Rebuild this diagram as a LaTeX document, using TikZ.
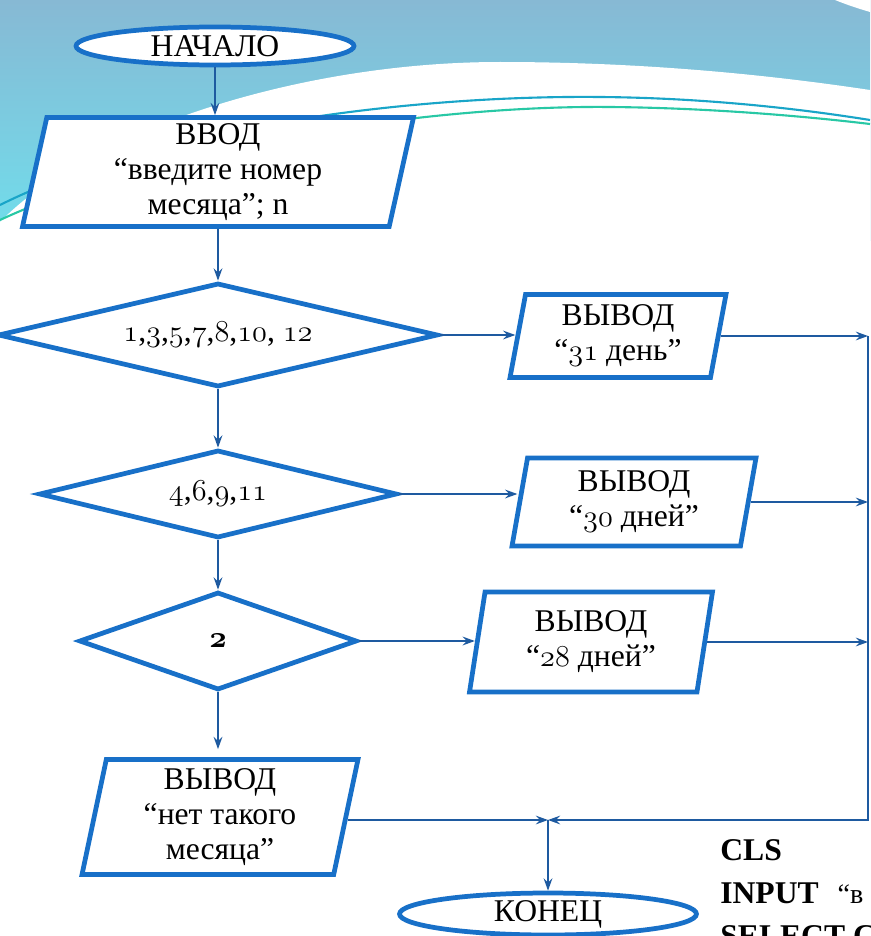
\documentclass[tikz,border=0pt]{standalone}
\usepackage{fontspec}
\setmainfont{Liberation Serif}
\usetikzlibrary{shapes.geometric,arrows.meta,positioning,calc}

\definecolor{boxblue}{RGB}{24,112,200}
\definecolor{lineblue}{RGB}{30,90,160}
\definecolor{bgtop}{RGB}{135,185,212}
\definecolor{bgbot}{RGB}{112,222,236}
\definecolor{waveA}{RGB}{25,165,200}
\definecolor{waveB}{RGB}{40,200,165}

\newcommand{\onum}[1]{{\usefont{OML}{cmm}{m}{it}#1}}
\newcommand{\onumb}[1]{{\usefont{OML}{cmm}{b}{it}#1}}

\tikzset{
  base/.style={draw=boxblue, line width=2.7pt, fill=white, align=center, inner sep=0pt,
    font=\fontsize{18}{20}\selectfont},
  term/.style={base, ellipse},
  io/.style={base, trapezium, trapezium left angle=76, trapezium right angle=104, trapezium stretches body},
  decision/.style={base, diamond},
  line/.style={draw=lineblue, line width=0.9pt, -{Stealth[length=7pt,width=5pt,inset=2.5pt]}},
  code/.style={anchor=base west, inner sep=0pt, font=\fontsize{18}{20}\selectfont\bfseries}
}

\begin{document}
\begin{tikzpicture}[x=0.02cm, y=-0.02cm]
    \useasboundingbox (0,0) rectangle (870,936);
    \clip (0,0) rectangle (870,936);
    % background
    \fill[top color=bgtop, bottom color=bgbot] (0,0) rectangle (870,240);
    \fill[white] (0,222) .. controls (90,130) and (300,62) .. (500,62) .. controls (660,62) and (790,78) .. (870,90) -- (870,936) -- (0,936) -- cycle;
    \fill[white] (835,0) .. controls (850,6) and (860,9) .. (870,12) -- (870,0) -- cycle;
    \draw[waveA, line width=1.2pt] (0,205) .. controls (150,130) and (400,95) .. (600,97) .. controls (720,98) and (820,112) .. (870,120);
    \draw[waveB, line width=1.2pt] (0,220) .. controls (150,150) and (420,105) .. (610,107) .. controls (720,108) and (820,118) .. (870,124);

    \node[term, minimum width=5.56cm, minimum height=0.76cm] (start) at (215,46) {НАЧАЛО};
    \node[io, minimum width=7.82cm, minimum height=2.18cm] (input) at (218,172) {ВВОД\\“введите номер\\месяца”; n};
    \node[decision, shape aspect=4.2, minimum width=8.8cm, minimum height=2.08cm] (d1) at (218,335) {\onum{1},\onum{3},\onum{5},\onum{7},\onum{8},\onum{10}, \onum{12}};
    \node[decision, shape aspect=4.1, minimum width=7.16cm, minimum height=1.76cm] (d2) at (218,494) {\onum{4},\onum{6},\onum{9},\onum{11}};
    \node[decision, shape aspect=2.8, minimum width=5.56cm, minimum height=1.96cm] (d3) at (218,641) {\onumb{2}};
    \node[io, minimum width=5.52cm, minimum height=2.30cm] (out4) at (220,817) {ВЫВОД\\“нет такого\\месяца”};

    \node[io, minimum width=4.32cm, minimum height=1.66cm] (out1) at (618,336) {ВЫВОД\\“\onum{31} день”};
    \node[io, minimum width=4.88cm, minimum height=1.76cm] (out2) at (634,502) {ВЫВОД\\“\onum{30} дней”};
    \node[io, minimum width=4.86cm, minimum height=2.0cm] (out3) at (591,642) {ВЫВОД\\“\onum{28} дней”};

    \node[term, minimum width=5.94cm, minimum height=0.84cm] (end) at (548,914) {КОНЕЦ};

    \coordinate (join) at (548,820);
    \coordinate (rail) at (868,820);

    \draw[line] (start.south) -- (start.south |- input.north);
    \draw[line] (input.south) -- (d1.north);
    \draw[line] (d1.south) -- (d2.north);
    \draw[line] (d2.south) -- (d3.north);
    \draw[line, shorten >=0.16cm] (d3.south) -- (d3.south |- out4.north);

    \draw[line] (d1.east) -- (d1.east -| out1.west);
    \draw[line] (d2.east) -- (d2.east -| out2.west);
    \draw[line] (d3.east) -- (d3.east -| out3.west);

    \draw[line] (out1.east) -- (out1.east -| rail);
    \draw[line] (out2.east) -- (out2.east -| rail);
    \draw[line] (out3.east) -- (out3.east -| rail);
    \draw[line] (rail |- out1.east) -- (rail) -- (join); % collect
    \draw[line] (out4.east |- join) -- (join);
    \draw[line] (join) -- (end.north);

    % program text
    \node[code] (cls) at (720,860) {CLS};
    \node[code] (inp) at (720,903) {INPUT\hspace{0.6em}{\mdseries\fontsize{16}{18}\selectfont “в}};
    \node[code] (sel) at (720,946) {SELECT C};
\end{tikzpicture}
\end{document}
